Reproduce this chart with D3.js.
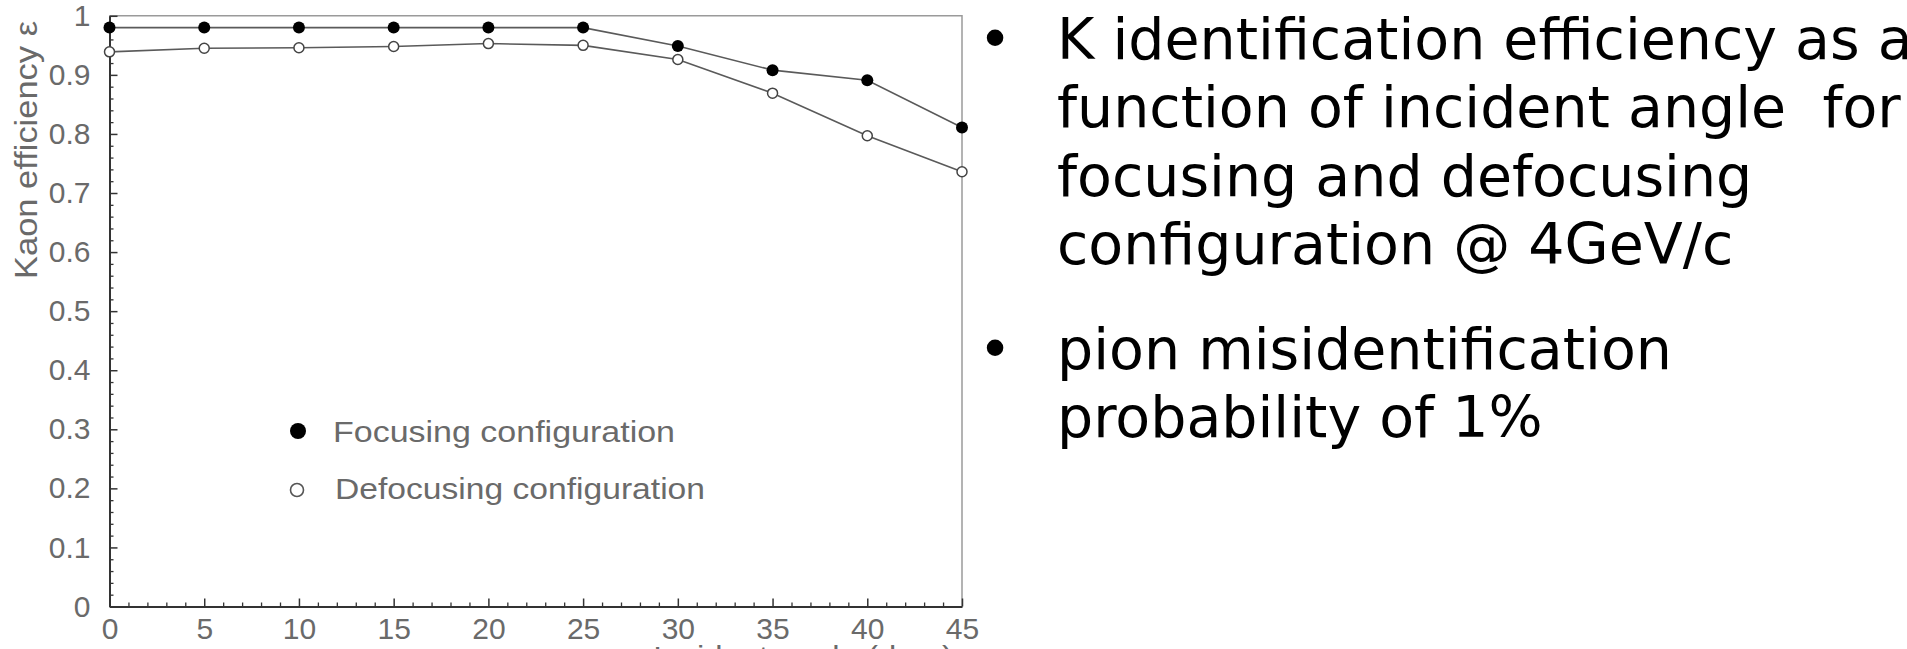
<!DOCTYPE html>
<html>
<head>
<meta charset="utf-8">
<script src="https://cdn.jsdelivr.net/npm/d3@7"></script>
<style>
  html, body { margin: 0; padding: 0; background: #fff; }
  svg { display: block; }
</style>
</head>
<body>
<svg id="chart" width="1907" height="649"></svg>
<script>
// ---- data ----
const angles = [0, 5, 10, 15, 20, 25, 30, 35, 40, 45];
const focusing = [0.980, 0.980, 0.980, 0.980, 0.980, 0.980, 0.949, 0.908, 0.891, 0.811];
const defocusing = [0.939, 0.945, 0.946, 0.948, 0.953, 0.950, 0.926, 0.869, 0.797, 0.736];
const yTickValues = [0, 0.1, 0.2, 0.3, 0.4, 0.5, 0.6, 0.7, 0.8, 0.9, 1];
const yTickLabels = ["0", "0.1", "0.2", "0.3", "0.4", "0.5", "0.6", "0.7", "0.8", "0.9", "1"];
const xTickValues = [0, 5, 10, 15, 20, 25, 30, 35, 40, 45];
const xTickLabels = ["0", "5", "10", "15", "20", "25", "30", "35", "40", "45"];
const yTitle = "Kaon efficiency \u03b5";
const xTitle = "Incident angle (deg.)";
const legendLabels = ["Focusing configuration", "Defocusing configuration"];
const bullets = [
  ["K identification efficiency as a", "function of incident angle\u00a0 for", "focusing and defocusing", "configuration @ 4GeV/c"],
  ["pion misidentification", "probability of 1%"]
];

const svg = d3.select("#chart");
const x = d3.scaleLinear().domain([0, 45]).range([109.5, 962]);
const y = d3.scaleLinear().domain([0, 1]).range([606.5, 15.8]);

const axisColor = "#333";
const labelColor = "#6a6a6a";
const labelFont = "'Liberation Sans', Arial, sans-serif";

// frame (top & right)
svg.append("path")
  .attr("d", `M${x(0)},${y(1)}H${x(45)}V${y(0)}`)
  .attr("fill", "none").attr("stroke", "#9a9a9a").attr("stroke-width", 1.5);

// minor ticks
const yMinor = d3.range(0, 101, 2).map(v => v / 100).filter(v => Math.round(v * 100) % 10 !== 0);
const xMinor = d3.range(0, 46, 1).filter(v => v % 5 !== 0);
svg.append("g").attr("transform", `translate(${x(0)},0)`)
  .call(d3.axisLeft(y).tickValues(yMinor).tickSize(-4).tickSizeOuter(0).tickFormat(""))
  .call(g => g.select(".domain").remove())
  .call(g => g.selectAll("line").attr("stroke", axisColor).attr("stroke-width", 1.3));
svg.append("g").attr("transform", `translate(0,${y(0)})`)
  .call(d3.axisBottom(x).tickValues(xMinor).tickSize(-4).tickSizeOuter(0).tickFormat(""))
  .call(g => g.select(".domain").remove())
  .call(g => g.selectAll("line").attr("stroke", axisColor).attr("stroke-width", 1.3));

// major y axis
svg.append("g").attr("transform", `translate(${x(0)},0)`)
  .call(d3.axisLeft(y).tickValues(yTickValues).tickSize(-8).tickSizeOuter(0).tickPadding(19)
    .tickFormat((d, i) => yTickLabels[i]))
  .call(g => g.select(".domain").attr("stroke", axisColor).attr("stroke-width", 2))
  .call(g => g.selectAll("line").attr("stroke", axisColor).attr("stroke-width", 1.5))
  .call(g => g.selectAll("text").attr("fill", labelColor).style("font-family", labelFont).style("font-size", "30px"));

// major x axis
svg.append("g").attr("transform", `translate(0,${y(0)})`)
  .call(d3.axisBottom(x).tickValues(xTickValues).tickSize(-8).tickSizeOuter(0).tickPadding(11)
    .tickFormat((d, i) => xTickLabels[i]))
  .call(g => g.select(".domain").attr("stroke", axisColor).attr("stroke-width", 2))
  .call(g => g.selectAll("line").attr("stroke", axisColor).attr("stroke-width", 1.5))
  .call(g => g.selectAll("text").attr("fill", labelColor).style("font-family", labelFont).style("font-size", "30px"));

// axis titles
svg.append("text")
  .attr("transform", `translate(37,150) rotate(-90)`)
  .attr("text-anchor", "middle")
  .attr("textLength", 258).attr("lengthAdjust", "spacingAndGlyphs")
  .attr("fill", labelColor).style("font-family", labelFont).style("font-size", "31px")
  .text(yTitle);
svg.append("text")
  .attr("x", 653).attr("y", 667)
  .attr("textLength", 300).attr("lengthAdjust", "spacingAndGlyphs")
  .attr("fill", labelColor).style("font-family", labelFont).style("font-size", "30px")
  .text(xTitle);

// series lines
const line = d3.line().x((d, i) => x(angles[i])).y(d => y(d));
svg.append("path").datum(focusing).attr("d", line)
  .attr("fill", "none").attr("stroke", "#5a5a5a").attr("stroke-width", 1.6);
svg.append("path").datum(defocusing).attr("d", line)
  .attr("fill", "none").attr("stroke", "#5a5a5a").attr("stroke-width", 1.6);

// markers
svg.append("g").selectAll("circle").data(focusing).join("circle")
  .attr("cx", (d, i) => x(angles[i])).attr("cy", d => y(d)).attr("r", 6)
  .attr("fill", "#000");
svg.append("g").selectAll("circle").data(defocusing).join("circle")
  .attr("cx", (d, i) => x(angles[i])).attr("cy", d => y(d)).attr("r", 5)
  .attr("fill", "#fff").attr("stroke", "#444").attr("stroke-width", 1.5);

// legend
const leg = svg.append("g");
leg.append("circle").attr("cx", 298).attr("cy", 431).attr("r", 8).attr("fill", "#000");
leg.append("circle").attr("cx", 297).attr("cy", 490).attr("r", 6.5)
  .attr("fill", "#fff").attr("stroke", "#555").attr("stroke-width", 1.6);
leg.append("text").attr("x", 333).attr("y", 442)
  .attr("textLength", 342).attr("lengthAdjust", "spacingAndGlyphs")
  .attr("fill", labelColor).style("font-family", labelFont).style("font-size", "30px")
  .text(legendLabels[0]);
leg.append("text").attr("x", 335).attr("y", 499)
  .attr("textLength", 370).attr("lengthAdjust", "spacingAndGlyphs")
  .attr("fill", labelColor).style("font-family", labelFont).style("font-size", "30px")
  .text(legendLabels[1]);

// right-hand bullet text
const bulletBaselines = [59, 369];
const lineStep = 68.3;
const tg = svg.append("g").style("font-family", "'DejaVu Sans', sans-serif").style("font-size", "57px").attr("fill", "#000");
bullets.forEach((lines, b) => {
  tg.append("text").attr("x", 995).attr("y", bulletBaselines[b]).attr("text-anchor", "middle").text("\u2022");
  lines.forEach((t, i) => {
    tg.append("text").attr("x", 1057).attr("y", bulletBaselines[b] + i * lineStep).text(t);
  });
});
</script>
</body>
</html>
